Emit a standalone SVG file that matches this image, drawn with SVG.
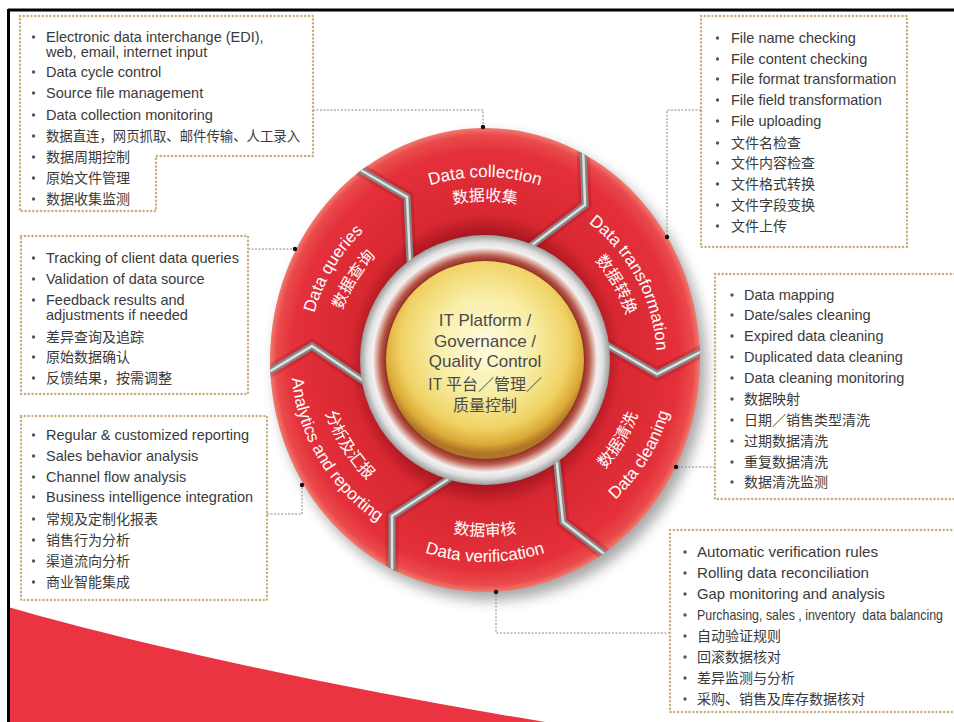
<svg xmlns="http://www.w3.org/2000/svg" width="954" height="722" viewBox="0 0 954 722">
<style>
.box{fill:none;stroke:#c6ae7a;stroke-width:2.4;stroke-linecap:round;stroke-dasharray:0.1 3.7}
.t{font-family:"Liberation Sans","Noto Sans CJK SC",sans-serif;font-size:14.5px;fill:#3a3a3a}
.c{font-family:"Noto Sans CJK SC","Liberation Sans",sans-serif;font-size:14px;fill:#3a3a3a}
.b{fill:#555}
.rl{font-family:"Liberation Sans","Noto Sans CJK SC",sans-serif;font-size:17px;fill:#ffffff}
.rc{font-family:"Noto Sans CJK SC","Liberation Sans",sans-serif;font-size:16px;fill:#ffffff}
.ct{font-family:"Liberation Sans","Noto Sans CJK SC",sans-serif;font-size:17px;fill:#4a4a4a;text-anchor:middle}
.cc{font-family:"Noto Sans CJK SC","Liberation Sans",sans-serif;font-size:16px;fill:#4a4a4a;text-anchor:middle}
.con{fill:none;stroke:#8a8a8a;stroke-width:1;stroke-dasharray:2 1.5}
.dot{fill:#111}
.div1{fill:none;stroke:#858585;stroke-width:7;stroke-linejoin:miter}
.div2{fill:none;stroke:#e0e0e0;stroke-width:2.5;stroke-linejoin:miter}
.divs{fill:none;stroke:#8a0f18;stroke-width:13;stroke-opacity:0.22}
</style>
<defs>
<radialGradient id="gRed" cx="50%" cy="50%" r="50%">
<stop offset="0.54" stop-color="#a8161f"/>
<stop offset="0.63" stop-color="#d82832"/>
<stop offset="0.9" stop-color="#e4303a"/>
<stop offset="0.97" stop-color="#ea4a4c"/>
<stop offset="1" stop-color="#f07a6e"/>
</radialGradient>
<radialGradient id="gSilver" cx="50%" cy="50%" r="50%">
<stop offset="0.86" stop-color="#ffffff"/>
<stop offset="0.94" stop-color="#e2e2e2"/>
<stop offset="1" stop-color="#9c9c9c"/>
</radialGradient>
<radialGradient id="gRim" cx="50%" cy="50%" r="50%">
<stop offset="0.86" stop-color="#7a1a12"/>
<stop offset="0.93" stop-color="#b9584a"/>
<stop offset="1" stop-color="#f4e8e4"/>
</radialGradient>
<radialGradient id="gYel" cx="50%" cy="42%" r="55%">
<stop offset="0" stop-color="#fffbe2"/>
<stop offset="0.45" stop-color="#f9eea6"/>
<stop offset="0.78" stop-color="#efd263"/>
<stop offset="0.92" stop-color="#dcaa38"/>
<stop offset="1" stop-color="#b07628"/>
</radialGradient>
<filter id="fSh" x="-20%" y="-20%" width="140%" height="140%"><feGaussianBlur stdDeviation="7"/></filter>
<clipPath id="ringClip"><ellipse cx="485" cy="360" rx="215" ry="232"/></clipPath>
<path id="p1" d="M367.4,219.8 A183,183 0 0 1 602.6,219.8"/>
<path id="p2" d="M382.8,238.2 A159,159 0 0 1 587.2,238.2"/>
<path id="p3" d="M535.3,195.5 A173,173 0 0 1 649.5,410.3"/>
<path id="p4" d="M524.4,217.0 A148,148 0 0 1 628.0,398.3"/>
<path id="p5" d="M529.6,545.7 A192,192 0 0 0 671.7,315.4"/>
<path id="p6" d="M524.3,517.2 A162,162 0 0 0 642.2,320.8"/>
<path id="p7" d="M342.2,502.8 A202,202 0 0 0 627.8,502.8"/>
<path id="p8" d="M360.5,484.5 A176,176 0 0 0 609.5,484.5"/>
<path id="p9" d="M296.7,313.0 A194,194 0 0 0 438.1,548.2"/>
<path id="p10" d="M321.4,322.3 A168,168 0 0 0 447.2,523.7"/>
<path id="p11" d="M313.3,402.8 A177,177 0 0 1 442.2,188.3"/>
<path id="p12" d="M338.2,395.2 A151,151 0 0 1 449.8,213.2"/>
</defs>

<rect x="0" y="0" width="954" height="722" fill="#ffffff"/>
<g id="background">
<path d="M8,607 C150,648 350,690 545,722 L8,722 Z" fill="#ea3441"/>
<line x1="8" y1="10" x2="954" y2="10" stroke="#000" stroke-width="3"/>
<line x1="8.5" y1="9" x2="8.5" y2="722" stroke="#000" stroke-width="3"/>
</g>

<g id="ring">
<ellipse cx="491" cy="368" rx="215" ry="232" fill="#000" opacity="0.35" filter="url(#fSh)"/>
<ellipse cx="485" cy="360" rx="215" ry="232" fill="url(#gRed)"/>
<g clip-path="url(#ringClip)">
<polyline class="divs" points="352,165 407,197 410,262"/>
<polyline class="divs" points="583,145 585,205 528,248"/>
<polyline class="divs" points="600,341 657,374 710,347"/>
<polyline class="divs" points="556,455 563,522 612,560"/>
<polyline class="divs" points="450,478 392,516 392,600"/>
<polyline class="divs" points="368,384 312,346 262,376"/>
<polyline class="div1" points="352,165 407,197 410,262"/>
<polyline class="div1" points="583,145 585,205 528,248"/>
<polyline class="div1" points="600,341 657,374 710,347"/>
<polyline class="div1" points="556,455 563,522 612,560"/>
<polyline class="div1" points="450,478 392,516 392,600"/>
<polyline class="div1" points="368,384 312,346 262,376"/>
<polyline class="div2" points="352,165 407,197 410,262"/>
<polyline class="div2" points="583,145 585,205 528,248"/>
<polyline class="div2" points="600,341 657,374 710,347"/>
<polyline class="div2" points="556,455 563,522 612,560"/>
<polyline class="div2" points="450,478 392,516 392,600"/>
<polyline class="div2" points="368,384 312,346 262,376"/>
</g>
<circle cx="485" cy="360" r="125" fill="url(#gSilver)"/>
<circle cx="485" cy="360" r="112" fill="url(#gRim)"/>
<circle cx="485" cy="360" r="99" fill="url(#gYel)"/>
</g>

<g id="center">
<text class="ct" x="485" y="326">IT Platform /</text>
<text class="ct" x="485" y="347">Governance /</text>
<text class="ct" x="485" y="367">Quality Control</text>
<text class="cc" x="485" y="390">IT 平台／管理／</text>
<text class="cc" x="485" y="411">质量控制</text>
</g>

<g id="seg-collection">
<text class="rl"><textPath href="#p1" startOffset="50%" text-anchor="middle">Data collection</textPath></text>
<text class="rc"><textPath href="#p2" startOffset="50%" text-anchor="middle">数据收集</textPath></text>
</g>
<g id="seg-transformation">
<text class="rl"><textPath href="#p3" startOffset="50%" text-anchor="middle">Data transformation</textPath></text>
<text class="rc"><textPath href="#p4" startOffset="50%" text-anchor="middle">数据转换</textPath></text>
</g>
<g id="seg-cleaning">
<text class="rl"><textPath href="#p5" startOffset="50%" text-anchor="middle">Data cleaning</textPath></text>
<text class="rc"><textPath href="#p6" startOffset="50%" text-anchor="middle">数据清洗</textPath></text>
</g>
<g id="seg-verification">
<text class="rl"><textPath href="#p7" startOffset="50%" text-anchor="middle">Data verification</textPath></text>
<text class="rc"><textPath href="#p8" startOffset="50%" text-anchor="middle">数据审核</textPath></text>
</g>
<g id="seg-analytics">
<text class="rl"><textPath href="#p9" startOffset="50%" text-anchor="middle">Analytics and reporting</textPath></text>
<text class="rc"><textPath href="#p10" startOffset="50%" text-anchor="middle">分析及汇报</textPath></text>
</g>
<g id="seg-queries">
<text class="rl"><textPath href="#p11" startOffset="50%" text-anchor="middle">Data queries</textPath></text>
<text class="rc"><textPath href="#p12" startOffset="50%" text-anchor="middle">数据查询</textPath></text>
</g>

<g id="connectors">
<polyline class="con" points="313,110 483,110 483,127"/>
<polyline class="con" points="701,110 667,110 667,237"/>
<polyline class="con" points="248,249 295,249"/>
<polyline class="con" points="267,514 302,514 302,485"/>
<polyline class="con" points="715,467 676,467"/>
<polyline class="con" points="670,633 496,633 496,592"/>
<circle class="dot" cx="483" cy="127" r="2.2"/>
<circle class="dot" cx="667" cy="237" r="2.2"/>
<circle class="dot" cx="295" cy="249" r="2.2"/>
<circle class="dot" cx="302" cy="485" r="2.2"/>
<circle class="dot" cx="676" cy="467" r="2.2"/>
<circle class="dot" cx="496" cy="592" r="2.2"/>
</g>

<g id="box-collection">
<path class="box" d="M20,16 H313 V156 H156 V211 H20 Z"/>
<circle class="b" cx="33.5" cy="37" r="1.7"/>
<circle class="b" cx="33.5" cy="72" r="1.7"/>
<circle class="b" cx="33.5" cy="93" r="1.7"/>
<circle class="b" cx="33.5" cy="115" r="1.7"/>
<circle class="b" cx="33.5" cy="136" r="1.7"/>
<circle class="b" cx="33.5" cy="157" r="1.7"/>
<circle class="b" cx="33.5" cy="178" r="1.7"/>
<circle class="b" cx="33.5" cy="199" r="1.7"/>
<text class="t" x="46" y="42">Electronic data interchange (EDI),</text>
<text class="t" x="46" y="56.5">web, email, internet input</text>
<text class="t" x="46" y="77">Data cycle control</text>
<text class="t" x="46" y="98">Source file management</text>
<text class="t" x="46" y="120">Data collection monitoring</text>
<text class="c" x="46" y="141" textLength="254" lengthAdjust="spacingAndGlyphs">数据直连，网页抓取、邮件传输、人工录入</text>
<text class="c" x="46" y="162">数据周期控制</text>
<text class="c" x="46" y="183">原始文件管理</text>
<text class="c" x="46" y="204">数据收集监测</text>
</g>

<g id="box-transformation">
<rect class="box" x="701" y="16" width="206" height="231"/>
<circle class="b" cx="717.5" cy="38" r="1.7"/>
<circle class="b" cx="717.5" cy="59" r="1.7"/>
<circle class="b" cx="717.5" cy="79" r="1.7"/>
<circle class="b" cx="717.5" cy="100" r="1.7"/>
<circle class="b" cx="717.5" cy="121" r="1.7"/>
<circle class="b" cx="717.5" cy="143" r="1.7"/>
<circle class="b" cx="717.5" cy="163" r="1.7"/>
<circle class="b" cx="717.5" cy="184" r="1.7"/>
<circle class="b" cx="717.5" cy="205" r="1.7"/>
<circle class="b" cx="717.5" cy="226" r="1.7"/>
<text class="t" x="731" y="43">File name checking</text>
<text class="t" x="731" y="64">File content checking</text>
<text class="t" x="731" y="84">File format transformation</text>
<text class="t" x="731" y="105">File field transformation</text>
<text class="t" x="731" y="126">File uploading</text>
<text class="c" x="731" y="148">文件名检查</text>
<text class="c" x="731" y="168">文件内容检查</text>
<text class="c" x="731" y="189">文件格式转换</text>
<text class="c" x="731" y="210">文件字段变换</text>
<text class="c" x="731" y="231">文件上传</text>
</g>

<g id="box-queries">
<rect class="box" x="21" y="236" width="227" height="158"/>
<circle class="b" cx="33.5" cy="258" r="1.7"/>
<circle class="b" cx="33.5" cy="279" r="1.7"/>
<circle class="b" cx="33.5" cy="300" r="1.7"/>
<circle class="b" cx="33.5" cy="337" r="1.7"/>
<circle class="b" cx="33.5" cy="357" r="1.7"/>
<circle class="b" cx="33.5" cy="378" r="1.7"/>
<text class="t" x="46" y="263">Tracking of client data queries</text>
<text class="t" x="46" y="284">Validation of data source</text>
<text class="t" x="46" y="305">Feedback results and</text>
<text class="t" x="46" y="320">adjustments if needed</text>
<text class="c" x="46" y="342">差异查询及追踪</text>
<text class="c" x="46" y="362">原始数据确认</text>
<text class="c" x="46" y="383">反馈结果，按需调整</text>
</g>

<g id="box-analytics">
<rect class="box" x="21" y="416" width="246" height="184"/>
<circle class="b" cx="33.5" cy="435" r="1.7"/>
<circle class="b" cx="33.5" cy="456" r="1.7"/>
<circle class="b" cx="33.5" cy="477" r="1.7"/>
<circle class="b" cx="33.5" cy="497" r="1.7"/>
<circle class="b" cx="33.5" cy="519" r="1.7"/>
<circle class="b" cx="33.5" cy="540" r="1.7"/>
<circle class="b" cx="33.5" cy="561" r="1.7"/>
<circle class="b" cx="33.5" cy="582" r="1.7"/>
<text class="t" x="46" y="440">Regular &amp; customized reporting</text>
<text class="t" x="46" y="461">Sales behavior analysis</text>
<text class="t" x="46" y="482">Channel flow analysis</text>
<text class="t" x="46" y="502">Business intelligence integration</text>
<text class="c" x="46" y="524">常规及定制化报表</text>
<text class="c" x="46" y="545">销售行为分析</text>
<text class="c" x="46" y="566">渠道流向分析</text>
<text class="c" x="46" y="587">商业智能集成</text>
</g>

<g id="box-cleaning">
<rect class="box" x="715" y="274" width="250" height="225"/>
<circle class="b" cx="732" cy="295" r="1.7"/>
<circle class="b" cx="732" cy="315" r="1.7"/>
<circle class="b" cx="732" cy="336" r="1.7"/>
<circle class="b" cx="732" cy="357" r="1.7"/>
<circle class="b" cx="732" cy="378" r="1.7"/>
<circle class="b" cx="732" cy="399" r="1.7"/>
<circle class="b" cx="732" cy="420" r="1.7"/>
<circle class="b" cx="732" cy="441" r="1.7"/>
<circle class="b" cx="732" cy="462" r="1.7"/>
<circle class="b" cx="732" cy="482" r="1.7"/>
<text class="t" x="744" y="300">Data mapping</text>
<text class="t" x="744" y="320">Date/sales cleaning</text>
<text class="t" x="744" y="341">Expired data cleaning</text>
<text class="t" x="744" y="362">Duplicated data cleaning</text>
<text class="t" x="744" y="383">Data cleaning monitoring</text>
<text class="c" x="744" y="404">数据映射</text>
<text class="c" x="744" y="425">日期／销售类型清洗</text>
<text class="c" x="744" y="446">过期数据清洗</text>
<text class="c" x="744" y="467">重复数据清洗</text>
<text class="c" x="744" y="487">数据清洗监测</text>
</g>

<g id="box-verification">
<rect class="box" x="670" y="530" width="295" height="182"/>
<circle class="b" cx="685" cy="552" r="1.7"/>
<circle class="b" cx="685" cy="573" r="1.7"/>
<circle class="b" cx="685" cy="594" r="1.7"/>
<circle class="b" cx="685" cy="615" r="1.7"/>
<circle class="b" cx="685" cy="636" r="1.7"/>
<circle class="b" cx="685" cy="657" r="1.7"/>
<circle class="b" cx="685" cy="678" r="1.7"/>
<circle class="b" cx="685" cy="699" r="1.7"/>
<text class="t" x="697" y="557" textLength="181" lengthAdjust="spacingAndGlyphs">Automatic verification rules</text>
<text class="t" x="697" y="578" textLength="172" lengthAdjust="spacingAndGlyphs">Rolling data reconciliation</text>
<text class="t" x="697" y="599" textLength="188" lengthAdjust="spacingAndGlyphs">Gap monitoring and analysis</text>
<text class="t" x="697" y="620" textLength="246" lengthAdjust="spacingAndGlyphs" xml:space="preserve">Purchasing, sales , inventory  data balancing</text>
<text class="c" x="697" y="641">自动验证规则</text>
<text class="c" x="697" y="662">回滚数据核对</text>
<text class="c" x="697" y="683">差异监测与分析</text>
<text class="c" x="697" y="704">采购、销售及库存数据核对</text>
</g>
</svg>
